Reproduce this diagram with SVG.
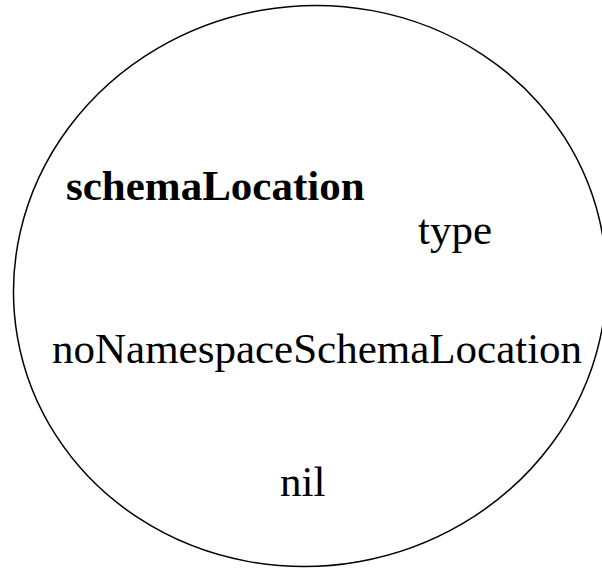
<svg xmlns="http://www.w3.org/2000/svg" width="602" height="568" viewBox="0 0 602 568">
<style>
.lbl{font-family:"Liberation Serif","Times New Roman",serif;font-size:43px;fill:#000}
.b{font-weight:bold}
.shape{fill:none;stroke:#000;stroke-width:1.5}
</style>
<rect width="602" height="568" fill="#fff"/>
<g id="set">
<ellipse class="shape" cx="310" cy="286" rx="297" ry="280" transform="rotate(-10 310 286)"/>
</g>
<g id="connectors"/>
<g id="schemaLocation"><text class="lbl b" x="66" y="200">schemaLocation</text></g>
<g id="type"><text class="lbl" x="418" y="244">type</text></g>
<g id="noNamespaceSchemaLocation"><text class="lbl" x="52" y="363">noNamespaceSchemaLocation</text></g>
<g id="nil"><text class="lbl" x="280" y="496">nil</text></g>
</svg>
